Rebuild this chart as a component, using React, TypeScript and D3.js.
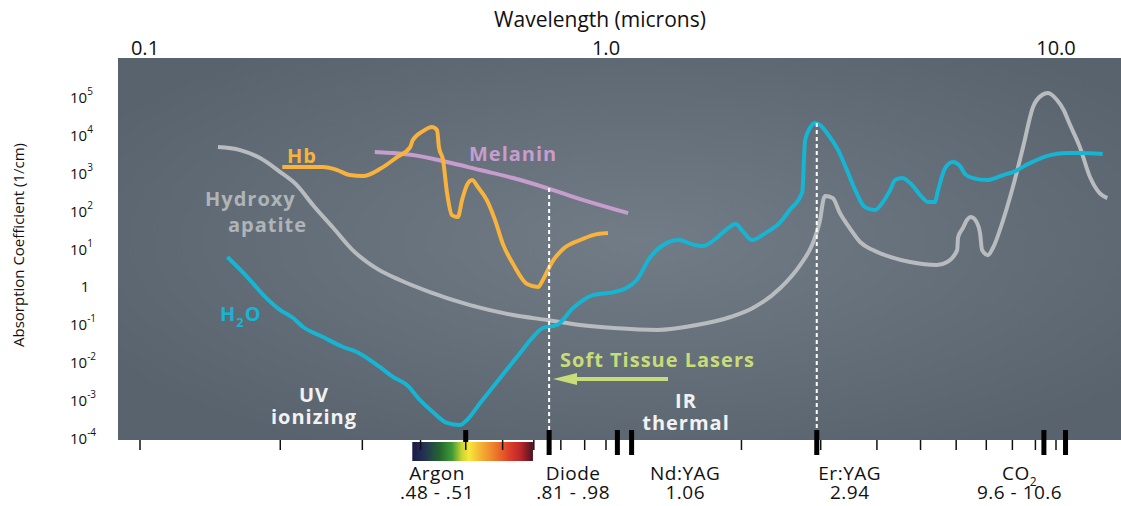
import React from "react";
import * as d3 from "d3";

// absorption spectra: [wavelength in microns, absorption coefficient in 1/cm]
const hydroxyapatite: [number, number][] = [
  [0.147, 4760], [0.164, 3970], [0.181, 2440], [0.2, 1040], [0.217, 473], [0.235, 141],
  [0.26, 34.8], [0.286, 9.1], [0.323, 2.9], [0.361, 1.48], [0.419, 0.71], [0.511, 0.32],
  [0.632, 0.176], [0.747, 0.13], [0.88, 0.096], [1.04, 0.08], [1.3, 0.071], [1.59, 0.096],
  [1.89, 0.156], [2.12, 0.27], [2.44, 0.91], [2.7, 3.67], [2.87, 12.4], [2.94, 27.2],
  [2.99, 56.5], [3.04, 190], [3.07, 243], [3.19, 215], [3.31, 86.5], [3.48, 34.8],
  [3.67, 14.9], [3.92, 9.1], [4.28, 6.0], [4.74, 4.4], [5.44, 3.67], [5.73, 4.4],
  [6.03, 9.1], [6.06, 20], [6.21, 34.8], [6.34, 56.5], [6.47, 67.8], [6.68, 47.1],
  [6.78, 25.6], [6.85, 9.1], [7.06, 6.7], [7.24, 10.3], [7.63, 56.5], [8.02, 420],
  [8.45, 4760], [8.89, 54500], [9.31, 113000], [9.6, 128000], [10.05, 83400],
  [10.4, 45400], [10.7, 20600], [11.3, 4760], [11.9, 771], [12.5, 291], [13, 215],
];

const water: [number, number][] = [
  [0.154, 5.97], [0.17, 1.77], [0.184, 0.593], [0.2, 0.238], [0.213, 0.147], [0.224, 0.085],
  [0.247, 0.0462], [0.273, 0.0252], [0.292, 0.0186], [0.327, 0.0075], [0.349, 0.0041],
  [0.374, 0.0025], [0.399, 0.001], [0.425, 0.000485], [0.456, 0.00025], [0.486, 0.00022],
  [0.503, 0.0003], [0.537, 0.00084], [0.592, 0.0038], [0.654, 0.0175], [0.697, 0.046],
  [0.732, 0.08], [0.785, 0.096], [0.85, 0.27], [0.938, 0.59], [1.04, 0.71], [1.11, 0.91],
  [1.17, 1.48], [1.25, 5.6], [1.34, 12.4], [1.45, 16.8], [1.55, 13.1], [1.64, 11.6],
  [1.76, 18.9], [1.87, 34.8], [1.94, 44.3], [2.02, 27.2], [2.11, 16.8], [2.26, 25.6],
  [2.44, 50], [2.56, 104], [2.73, 310], [2.77, 7290], [2.84, 15100], [2.91, 20500],
  [2.99, 18100], [3.1, 11100], [3.28, 3970], [3.43, 1180], [3.58, 349], [3.76, 124],
  [3.96, 104], [4.11, 159], [4.28, 349], [4.39, 641], [4.55, 724], [4.74, 535],
  [5.06, 215], [5.19, 169], [5.38, 169], [5.47, 349], [5.67, 1330], [5.9, 1920],
  [6.12, 1500], [6.28, 925], [6.54, 724], [7.03, 641], [7.63, 869], [8.02, 1040],
  [8.75, 1800], [9.7, 2930], [10.6, 3310], [11.3, 3310], [12.7, 3110],
];

const hemoglobin: [number, number][] = [
  [0.202, 1413], [0.247, 1413], [0.265, 1180], [0.282, 869], [0.301, 818], [0.327, 1250],
  [0.356, 2590], [0.38, 4760], [0.385, 7290], [0.405, 12600], [0.423, 16100], [0.434, 13400],
  [0.438, 4760], [0.447, 2160], [0.456, 291], [0.467, 76.6], [0.481, 67.8], [0.491, 190],
  [0.503, 473], [0.516, 641], [0.531, 420], [0.555, 190], [0.578, 56.5], [0.601, 13.1],
  [0.632, 3.9], [0.677, 1.16], [0.715, 0.965], [0.732, 1.48], [0.766, 4.4], [0.809, 9.7],
  [0.88, 16.8], [0.938, 22.7], [1.01, 25.6],
];

const melanin: [number, number][] = [
  [0.319, 3520], [0.385, 2930], [0.456, 1920], [0.537, 1180], [0.632, 726],
  [0.747, 395], [0.88, 202], [1.12, 86.5],
];

const topTicks = [0.1, 1, 10];
const topTickLabels = ["0.1", "1.0", "10.0"];
const minorTicks = [0.1, 0.2, 0.3, 0.4, 0.5, 0.6, 0.7, 0.8, 0.9, 1, 2, 3, 4, 5, 6, 7, 8, 9, 10];
const yExponents = [5, 4, 3, 2, 1, 0, -1, -2, -3, -4];

const lasers = [
  { name: "Argon", range: ".48 - .51", at: 0.434, ticks: [0.5], short: true },
  { name: "Diode", range: ".81 - .98", at: 0.85, ticks: [0.755], short: false },
  { name: "Nd:YAG", range: "1.06", at: 1.5, ticks: [1.06, 1.14], short: false },
  { name: "Er:YAG", range: "2.94", at: 3.48, ticks: [2.94], short: false },
  { name: "CO", sub: "2", range: "9.6 - 10.6", at: 8.3, ticks: [9.4, 10.5], short: false },
];

// dashed guide lines: [wavelength, absorption at top]
const guides: [number, number][] = [[0.755, 395], [2.94, 20500]];

const visibleBand = [0.384, 0.697];
const spectrumStops = [
  ["0%", "#1b1a48"], ["10%", "#233256"], ["22%", "#23632f"], ["33%", "#3f9a35"],
  ["41%", "#c8d531"], ["47%", "#f7e73a"], ["56%", "#f5b535"], ["68%", "#ee7d2a"],
  ["80%", "#df3f2b"], ["90%", "#b9262a"], ["100%", "#4a1322"],
];

const font = "'Open Sans', 'Noto Sans', sans-serif";

const panel = { left: 118, top: 58, right: 1121, bottom: 440 };

export default function App() {
  const x = d3.scaleLog().domain([0.1, 1, 10]).range([140, 606, 1056]);
  const y = d3.scaleLog().domain([1e-4, 1e5]).range([438, 97]);

  const line = d3
    .line<[number, number]>()
    .x((d) => x(d[0]))
    .y((d) => y(d[1]))
    .curve(d3.curveMonotoneX);

  const series = [
    { data: hydroxyapatite, color: "#b9bcbe" },
    { data: water, color: "#15b5d3" },
    { data: melanin, color: "#c79dce" },
    { data: hemoglobin, color: "#f8b33c" },
  ];

  return (
    <svg
      width={1121}
      height={506}
      style={{ position: "absolute", left: 0, top: 0, fontFamily: font }}
    >
      <defs>
        <radialGradient id="panelBg" cx="52%" cy="48%" r="62%">
          <stop offset="0%" stopColor="#717c86" />
          <stop offset="100%" stopColor="#59636e" />
        </radialGradient>
        <linearGradient id="spectrum" x1="0" x2="1" y1="0" y2="0">
          {spectrumStops.map(([o, c]) => (
            <stop key={o} offset={o} stopColor={c} />
          ))}
        </linearGradient>
      </defs>

      <rect
        x={panel.left}
        y={panel.top}
        width={panel.right - panel.left}
        height={panel.bottom - panel.top}
        fill="url(#panelBg)"
      />

      {/* top axis */}
      <text x={600} y={27} textAnchor="middle" fontSize={21} fill="#111">
        Wavelength (microns)
      </text>
      {topTicks.map((t, i) => (
        <text key={t} x={x(t) + (i === 0 ? 5 : 0)} y={55} textAnchor="middle" fontSize={20} fill="#111">
          {topTickLabels[i]}
        </text>
      ))}

      {/* y axis */}
      <text
        transform={`translate(24,245) rotate(-90)`}
        textAnchor="middle"
        fontSize={15}
        fill="#111"
      >
        Absorption Coefficient (1/cm)
      </text>
      {yExponents.map((e) =>
        e === 0 ? (
          <text key={e} x={85} y={y(1)} textAnchor="middle" dominantBaseline="central" fontSize={15} fill="#111">
            1
          </text>
        ) : (
          <text key={e} x={70} y={y(Math.pow(10, e))} dominantBaseline="central" fontSize={15} fill="#111">
            10
            <tspan fontSize={10} dy={-6}>
              {e}
            </tspan>
          </text>
        )
      )}

      {/* visible spectrum bar */}
      <rect
        x={x(visibleBand[0])}
        y={442}
        width={x(visibleBand[1]) - x(visibleBand[0])}
        height={19}
        fill="url(#spectrum)"
      />

      {/* minor ticks */}
      {minorTicks.map((t) => (
        <line key={t} x1={x(t)} x2={x(t)} y1={440} y2={450} stroke="#111" strokeWidth={1.5} />
      ))}

      {/* curves */}
      {series.map((s, i) => (
        <path key={i} d={line(s.data) ?? ""} fill="none" stroke={s.color} strokeWidth={4} strokeLinejoin="round" />
      ))}

      {/* dashed guides */}
      {guides.map(([w, v]) => (
        <line key={w} x1={x(w)} x2={x(w)} y1={y(v)} y2={panel.bottom} stroke="#fff" strokeWidth={2} strokeDasharray="4 3" />
      ))}

      {/* laser markers */}
      {lasers.map((l) => (
        <g key={l.name} fontSize={19} letterSpacing={0.5} fill="#111">
          {l.ticks.map((t) => (
            <rect key={t} x={x(t) - 2.5} y={430} width={5} height={l.short ? 12 : 25} fill="#000" />
          ))}
          <text x={x(l.at)} y={480} textAnchor="middle">
            {l.name}
            {l.sub && (
              <tspan fontSize={12} dy={6}>
                {l.sub}
              </tspan>
            )}
          </text>
          <text x={x(l.at)} y={499} textAnchor="middle">
            {l.range}
          </text>
        </g>
      ))}

      {/* annotations */}
      <g fontWeight="bold" fontSize={20} letterSpacing={1}>
        <text x={287} y={163} fill="#f8b33c">Hb</text>
        <text x={469} y={161} fill="#c79dce">Melanin</text>
        <text x={205} y={206} fill="#b0b4b6">Hydroxy</text>
        <text x={228} y={232} fill="#b0b4b6">apatite</text>
        <text x={220} y={321} fill="#15b5d3">
          H<tspan fontSize={13} dy={6}>2</tspan>
          <tspan dy={-6}>O</tspan>
        </text>
        <text x={314} y={402} fill="#f2f2f2" textAnchor="middle">UV</text>
        <text x={314} y={424} fill="#f2f2f2" textAnchor="middle">ionizing</text>
        <text x={686} y={408} fill="#f2f2f2" textAnchor="middle">IR</text>
        <text x={686} y={430} fill="#f2f2f2" textAnchor="middle">thermal</text>
        <text x={560} y={367} fill="#c9dc7a">Soft Tissue Lasers</text>
      </g>
      <line x1={668} x2={570} y1={379} y2={379} stroke="#c9dc7a" strokeWidth={4} />
      <path d="M553,379 L577,373 L577,385 Z" fill="#c9dc7a" />
    </svg>
  );
}
